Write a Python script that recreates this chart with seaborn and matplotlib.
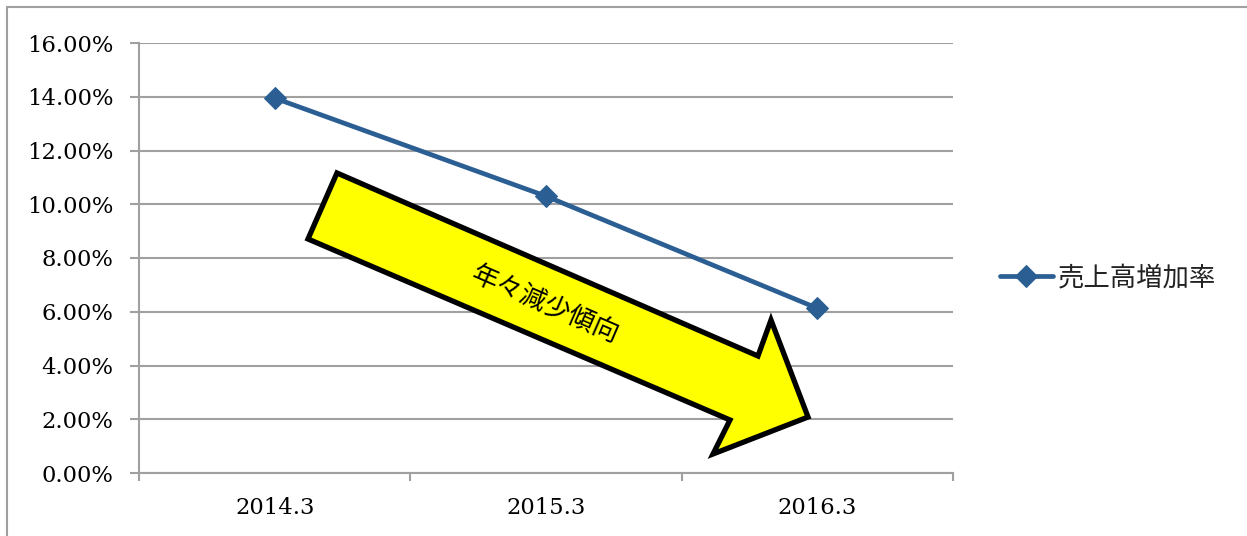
import matplotlib
matplotlib.use("Agg")
import matplotlib.pyplot as plt
import seaborn as sns
import pandas as pd
from matplotlib.patches import Polygon, Rectangle
from matplotlib.ticker import FuncFormatter, FixedLocator

# ---- data ----
periods = ["2014.3", "2015.3", "2016.3"]
growth = [13.95, 10.30, 6.13]
series_name = "売上高増加率"
arrow_label = "年々減少傾向"
yticks = [0, 2, 4, 6, 8, 10, 12, 14, 16]

df = pd.DataFrame({"period": periods, "growth": growth})

sns.set_theme(style="white")
plt.rcParams["font.family"] = ["DejaVu Serif", "Noto Sans CJK JP"]

fig = plt.figure(figsize=(12.47, 5.36), dpi=100)
ax = fig.add_axes([139/1247, 1-473/536, (953-139)/1247, (473-43)/536])

line_color = "#2B5F93"
sns.lineplot(data=df, x="period", y="growth", ax=ax, color=line_color,
             linewidth=3.4, marker="D", markersize=11, markeredgecolor=line_color,
             label=series_name, sort=False)

ax.set_xlim(-0.5, 2.5)
ax.set_ylim(0, 16)
ax.set_yticks(yticks)
ax.yaxis.set_major_formatter(FuncFormatter(lambda v, p: f"{v:.2f}%"))
ax.grid(axis="y", color="#A0A0A0", linewidth=1.5)
ax.set_axisbelow(True)
ax.set_xlabel("")
ax.set_ylabel("")

for s in ["top", "right"]:
    ax.spines[s].set_visible(False)
for s in ["left", "bottom"]:
    ax.spines[s].set_color("#A0A0A0")
    ax.spines[s].set_linewidth(1.5)

ax.xaxis.set_minor_locator(FixedLocator([-0.5, 0.5, 1.5, 2.5]))
ax.tick_params(axis="x", which="major", length=0, pad=17, labelsize=16.3, labelcolor="black")
ax.tick_params(axis="x", which="minor", bottom=True, length=6, width=1.5, color="#A0A0A0")
ax.tick_params(axis="y", which="major", left=True, length=6.5, width=1.5, color="#A0A0A0",
               pad=12, labelsize=16.3, labelcolor="black")

# arrow annotation (axes fraction coordinates)
arrow_pts = [(0.2432, 0.6977), (0.2076, 0.5442), (0.7260, 0.1233), (0.7052, 0.0442),
             (0.8219, 0.1302), (0.7764, 0.3558), (0.7604, 0.2721)]
arrow = Polygon(arrow_pts, closed=True, transform=ax.transAxes, facecolor="#FFFF00",
                edgecolor="black", linewidth=3.8, joinstyle="miter", zorder=1.5)
ax.add_patch(arrow)
ax.text(0.4988, 0.3907, arrow_label, transform=ax.transAxes, rotation=-23.5,
        rotation_mode="anchor", ha="center", va="center", fontsize=19,
        family=["Noto Sans CJK JP"], color="black", zorder=3)

leg = ax.legend(loc="center left", bbox_to_anchor=(1.0577, 0.4535), frameon=False,
                borderaxespad=0, borderpad=0, handlelength=2.0, handletextpad=0.2,
                prop={"family": ["Noto Sans CJK JP"], "size": 19})
for t in leg.get_texts():
    t.set_color("#222222")

# outer frame
fig.patches.append(Rectangle((7/1247, -0.2), 1.5, 1.2 - 7/536, transform=fig.transFigure,
                             fill=False, edgecolor="#A0A0A0", linewidth=1.5, zorder=0))

fig.savefig("out.png", dpi=100)
